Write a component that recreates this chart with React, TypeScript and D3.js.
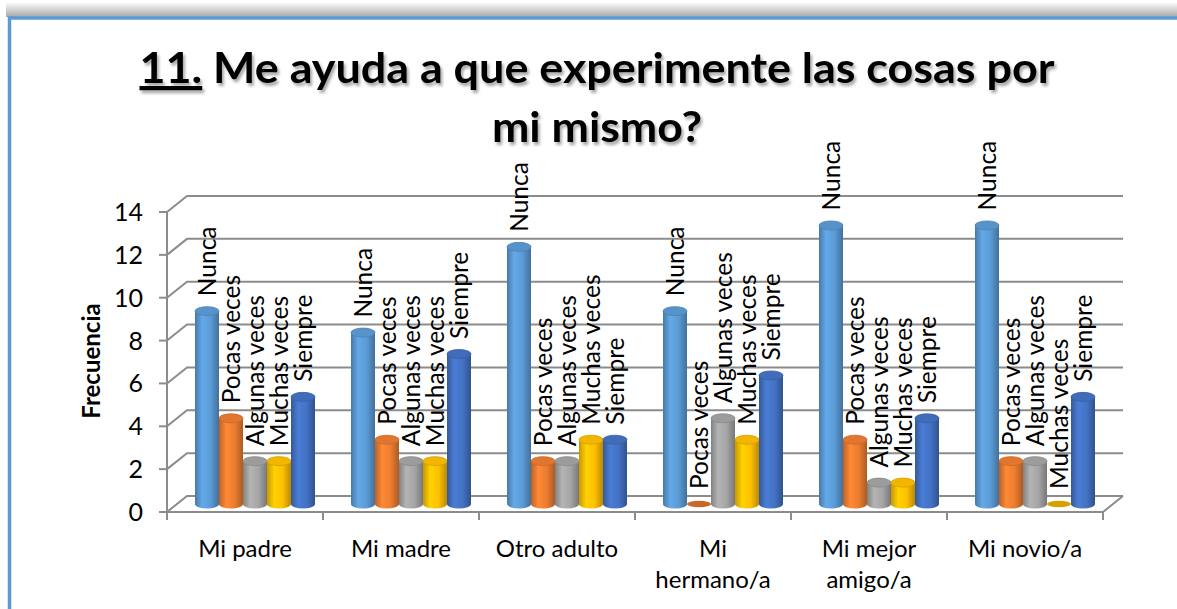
import React, { useEffect, useRef } from 'react';
import * as d3 from 'd3';

const categories = ['Mi padre', 'Mi madre', 'Otro adulto', 'Mi hermano/a', 'Mi mejor amigo/a', 'Mi novio/a'];
const categoryLines = [['Mi padre'], ['Mi madre'], ['Otro adulto'], ['Mi', 'hermano/a'], ['Mi mejor', 'amigo/a'], ['Mi novio/a']];
const seriesNames = ['Nunca', 'Pocas veces', 'Algunas veces', 'Muchas veces', 'Siempre'];
const nunca = [9, 8, 12, 9, 13, 13];
const pocasVeces = [4, 3, 2, 0, 3, 2];
const algunasVeces = [2, 2, 2, 4, 1, 2];
const muchasVeces = [2, 2, 3, 3, 1, 0];
const siempre = [5, 7, 3, 6, 4, 5];
const yTicks = [0, 2, 4, 6, 8, 10, 12, 14];
const seriesColors = ['#5B9BD5', '#ED7D31', '#A5A5A5', '#FFC000', '#4472C4'];

const FONT = 'Lato, "Open Sans", sans-serif';

function Chart() {
  const ref = useRef<SVGSVGElement>(null);

  useEffect(() => {
    const W = 1177;
    const H = 609;
    const left = 167;
    const right = 1103;
    const bottom = 512;
    const top = 212;
    const dx = 20;
    const dy = -16;
    const rY = 4.5;

    const values = [nunca, pocasVeces, algunasVeces, muchasVeces, siempre];

    const svg = d3.select(ref.current);
    svg.selectAll('*').remove();
    svg.attr('width', W).attr('height', H);

    const defs = svg.append('defs');

    const shadow = defs.append('filter').attr('id', 'titleShadow').attr('x', '-5%').attr('y', '-20%').attr('width', '110%').attr('height', '150%');
    shadow.append('feDropShadow').attr('dx', 2).attr('dy', 3).attr('stdDeviation', 1.8).attr('flood-color', '#000').attr('flood-opacity', 0.35);

    const frameShade = defs.append('linearGradient').attr('id', 'frameShade').attr('x1', 0).attr('x2', 0).attr('y1', 0).attr('y2', 1);
    frameShade.append('stop').attr('offset', 0).attr('stop-color', '#ffffff');
    frameShade.append('stop').attr('offset', 1).attr('stop-color', '#a8a8a8');

    seriesColors.forEach((c, i) => {
      const g = defs.append('linearGradient').attr('id', `cyl${i}`).attr('x1', 0).attr('x2', 1).attr('y1', 0).attr('y2', 0);
      const base = d3.color(c)!;
      g.append('stop').attr('offset', 0).attr('stop-color', base.darker(0.7).formatHex());
      g.append('stop').attr('offset', 0.3).attr('stop-color', base.brighter(0.25).formatHex());
      g.append('stop').attr('offset', 0.65).attr('stop-color', base.formatHex());
      g.append('stop').attr('offset', 1).attr('stop-color', base.darker(0.9).formatHex());
    });

    // frame
    svg.append('rect').attr('x', 6).attr('y', 2).attr('width', W).attr('height', 15).attr('fill', 'url(#frameShade)');
    svg
      .append('rect')
      .attr('x', 9.5)
      .attr('y', 18)
      .attr('width', W + 20)
      .attr('height', H + 20)
      .attr('fill', '#fff')
      .attr('stroke', '#5B9BD5')
      .attr('stroke-width', 3.5);

    // title
    const title = svg
      .append('g')
      .attr('filter', 'url(#titleShadow)')
      .style('font-family', FONT)
      .style('font-weight', 'bold')
      .style('font-size', '42px')
      .attr('text-anchor', 'middle');
    const t1 = title
      .append('text')
      .attr('x', 597)
      .attr('y', 83)
      .attr('textLength', 915)
      .attr('lengthAdjust', 'spacingAndGlyphs');
    t1.append('tspan').style('text-decoration', 'underline').text('11.');
    t1.append('tspan').text(' Me ayuda a que experimente las cosas por');
    title
      .append('text')
      .attr('x', 597)
      .attr('y', 142)
      .attr('textLength', 210)
      .attr('lengthAdjust', 'spacingAndGlyphs')
      .text('mi mismo?');

    const x = d3.scaleBand().domain(categories).range([left, right]).padding(0);
    const xs = d3.scaleBand().domain(seriesNames).range([0, x.bandwidth()]).paddingInner(0).paddingOuter(0.75);
    const y = d3.scaleLinear().domain([0, 14]).range([bottom, top]);

    const grid = svg.append('g').attr('stroke', '#8c8c8c').attr('stroke-width', 2).attr('fill', 'none');

    // gridlines on the left wall and back wall
    yTicks.forEach((t) => {
      grid
        .append('path')
        .attr('d', `M${left},${y(t)}L${left + dx},${y(t) + dy}L${right + dx},${y(t) + dy}`);
      grid.append('line').attr('x1', left - 8).attr('x2', left).attr('y1', y(t)).attr('y2', y(t));
    });
    grid.append('line').attr('x1', left).attr('x2', left).attr('y1', top).attr('y2', bottom);

    // floor
    grid.append('path').attr('d', `M${left},${bottom}L${right},${bottom}L${right + dx},${bottom + dy}`);
    d3.range(categories.length + 1).forEach((i) => {
      const xx = left + i * x.step();
      grid.append('line').attr('x1', xx).attr('x2', xx).attr('y1', bottom).attr('y2', bottom + 8);
    });

    // axis labels
    svg
      .append('g')
      .selectAll('text')
      .data(yTicks)
      .enter()
      .append('text')
      .attr('x', 143)
      .attr('y', (d) => y(d))
      .attr('dy', '0.36em')
      .attr('text-anchor', 'end')
      .style('font-family', FONT)
      .style('font-size', '25px')
      .text((d) => d);

    svg
      .append('text')
      .attr('transform', `translate(100, 361) rotate(-90)`)
      .attr('text-anchor', 'middle')
      .style('font-family', FONT)
      .style('font-weight', 'bold')
      .style('font-size', '24px')
      .text('Frecuencia');

    const catLabels = svg
      .append('g')
      .style('font-family', FONT)
      .style('font-size', '24px')
      .attr('text-anchor', 'middle');
    categories.forEach((c, i) => {
      const cx = x(c)! + x.bandwidth() / 2;
      categoryLines[i].forEach((line, j) => {
        catLabels.append('text').attr('x', cx).attr('y', 557 + j * 31).text(line);
      });
    });

    // cylinders
    const bw = xs.bandwidth();
    const bars = svg.append('g');
    categories.forEach((c, ci) => {
      seriesNames.forEach((s, si) => {
        const v = values[si][ci];
        const x0 = x(c)! + xs(s)! + dx / 2;
        const cx = x0 + bw / 2;
        const yb = y(0) + dy / 2;
        const yt = y(v) + dy / 2;
        const base = d3.color(seriesColors[si])!;
        if (v === 0) {
          bars
            .append('ellipse')
            .attr('cx', cx)
            .attr('cy', yb)
            .attr('rx', bw / 2)
            .attr('ry', rY * 0.7)
            .attr('fill', base.darker(0.5).formatHex());
          return;
        }
        bars
          .append('path')
          .attr(
            'd',
            `M${x0},${yt}L${x0},${yb}A${bw / 2},${rY} 0 0 0 ${x0 + bw},${yb}L${x0 + bw},${yt}Z`
          )
          .attr('fill', `url(#cyl${si})`);
        bars
          .append('ellipse')
          .attr('cx', cx)
          .attr('cy', yt)
          .attr('rx', bw / 2)
          .attr('ry', rY)
          .attr('fill', base.darker(0.15).formatHex())
          .attr('stroke', base.darker(0.5).formatHex())
          .attr('stroke-width', 0.8);
      });
    });

    // data labels (series names)
    const labels = svg
      .append('g')
      .style('font-family', FONT)
      .style('font-size', '24.5px');
    categories.forEach((c, ci) => {
      seriesNames.forEach((s, si) => {
        const v = values[si][ci];
        const cx = x(c)! + xs(s)! + dx / 2 + bw / 2;
        const yt = y(v) + dy / 2;
        labels
          .append('text')
          .attr('transform', `translate(${cx}, ${yt - 15}) rotate(-90)`)
          .attr('dy', '0.36em')
          .text(s);
      });
    });
  }, []);

  return <svg ref={ref} style={{ position: 'absolute', left: 0, top: 0, display: 'block' }}></svg>;
}

export default function App() {
  return <Chart />;
}
